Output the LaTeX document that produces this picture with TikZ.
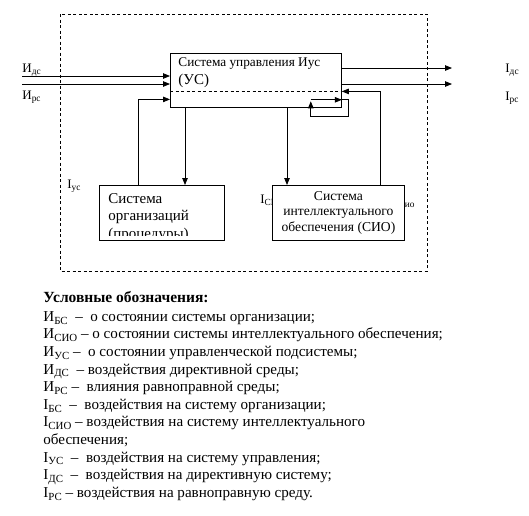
\documentclass[tikz,border=0pt]{standalone}
\usepackage{fontspec}
\setmainfont{Liberation Serif}
\usetikzlibrary{positioning, arrows.meta, calc}

\newcommand{\idx}[1]{\raisebox{-0.4ex}{\scalebox{0.72}{#1}}}

\begin{document}
\begin{tikzpicture}[
    x=1pt, y=-1pt,          % 画像のピクセル座標をそのまま使う（下向きが正）
    line width=0.8pt,
    >={Triangle[length=7pt, width=5.5pt]},
    box/.style={draw, fill=white, inner sep=0pt},
    lbl/.style={anchor=west, inner sep=0pt, font=\fontsize{13}{15}\selectfont},
    frame/.style={dash pattern=on 3pt off 2.5pt, line width=0.7pt}
]
    \useasboundingbox (0,0) rectangle (529,515);

    % --- 1. 外枠（破線） ---
    \draw [frame] (60,14) rectangle (427,271);

    % --- 2. ブロック ---
    % 【管理システム（УС）】
    \node [box, anchor=north west, minimum width=171pt, minimum height=54pt] (us) at (170,53) {};
    \node [lbl, font=\fontsize{13.3}{15}\selectfont] (us_txt) at (178,64) {Система управления Иус};
    \node [lbl, font=\fontsize{15}{17}\selectfont] (us_abbr) at (178,81) {(УС)};
    \draw [frame] ($(us.west)+(0,11)$) -- ($(us.east)+(0,11)$);

    % 【組織システム】下端でテキストが切れている
    \node [box, anchor=north west, minimum width=125pt, minimum height=55pt] (org) at (99,185) {};
    \begin{scope}
        \clip ($(org.north west)+(1,1)$) rectangle ($(org.south east)+(-1,-5)$);
        \node [anchor=north west, align=left, inner sep=0pt,
               font=\fontsize{15}{17.5}\selectfont] (org_txt) at (108,193)
            {Система\\организаций\\(процедуры)};
    \end{scope}

    % 【СИО】の後ろに隠れるラベル（先に描いて箱で覆う）
    \node [lbl] (i_sio) at (260,200) {I\idx{СИО}};
    \node [lbl, anchor=east] (u_sio) at (415,202) {И\idx{сио}};
    \node [box, anchor=north west, minimum width=132pt, minimum height=55pt,
           align=center, font=\fontsize{13.6}{15.5}\selectfont] (sio) at (272,185)
        {Система\\интеллектуального\\обеспечения (СИО)};

    % --- 3. 入出力の矢印 ---
    \coordinate (in_ds) at (22,76);
    \coordinate (in_rs) at (22,84);
    \draw [->] (in_ds) -- (in_ds -| us.west);
    \draw [->] (in_rs) -- (in_rs -| us.west);
    \coordinate (out_ds) at (452,68);
    \coordinate (out_rs) at (452,84);
    \draw [->] (out_ds -| us.east) -- (out_ds);
    \draw [->] (out_rs -| us.east) -- (out_rs);

    \node [lbl] (l_in_ds) at (22,70) {И\idx{дс}};
    \node [lbl] (l_in_rs) at (22,97) {И\idx{рс}};
    \node [lbl] (l_out_ds) at (505,70) {I\idx{дс}};
    \node [lbl] (l_out_rs) at (505,98) {I\idx{рс}};
    \node [lbl] (l_us) at (67,186) {I\idx{ус}};

    % --- 4. ブロック間の接続 ---
    \draw [->] ($(org.north west)+(39,0)$) |- ($(us.west)+(0,19)$);
    \draw [->] ($(us.south west)+(15,0)$) -- ($(org.north west)+(86,0)$);
    \draw [->] ($(us.south west)+(117,0)$) -- ($(sio.north west)+(15,0)$);
    \draw [->] ($(sio.north east)+(-24,0)$) |- ($(us.east)+(0,11)$);

    % 【自己ループ】
    \coordinate (loop) at ($(us.south east)+(-31,-8)$);
    \draw (loop) -- ++(38,0) -- ++(0,17) -- ++(-38,0) coordinate (loop_b);
    \draw [->] (loop_b) -- ($(loop)+(0,1.5)$);
    \draw [->] (loop) -- (loop -| us.east);

    % --- 5. 凡例 ---
    \node [lbl, font=\fontsize{15.5}{17}\selectfont\bfseries] (leg_title) at (43,297) {Условные обозначения:};
    \node [below right=8pt and 0pt of leg_title.south west, inner sep=0pt, align=left,
           font=\fontsize{15.1}{17.6}\selectfont] (legend) {%
        И\idx{БС} \ – \ о состоянии системы организации;\\
        И\idx{СИО} – о состоянии системы интеллектуального обеспечения;\\
        И\idx{УС} – \ о состоянии управленческой подсистемы;\\
        И\idx{ДС} \ – воздействия директивной среды;\\
        И\idx{РС} – \ влияния равноправной среды;\\
        I\idx{БС} \ – \ воздействия на систему организации;\\
        I\idx{СИО} – воздействия на систему интеллектуального\\
        обеспечения;\\
        I\idx{УС} \ – \ воздействия на систему управления;\\
        I\idx{ДС} \ – \ воздействия на директивную систему;\\
        I\idx{РС} – воздействия на равноправную среду.};

\end{tikzpicture}
\end{document}
